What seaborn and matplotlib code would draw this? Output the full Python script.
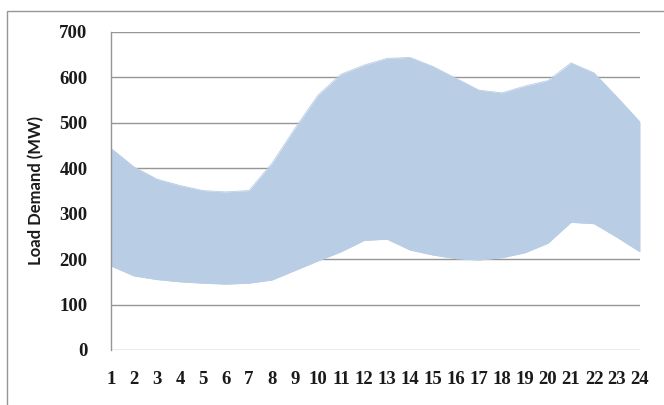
import numpy as np
import pandas as pd
import matplotlib
matplotlib.use("Agg")
import matplotlib.pyplot as plt
import seaborn as sns
from matplotlib.patches import Rectangle

# hourly load band (MW)
hours = list(range(1, 25))
upper_mw = [444, 403, 376, 362, 351, 348, 351, 411, 488, 561, 607, 627,
            642, 644, 624, 598, 572, 566, 581, 593, 632, 610, 557, 502]
lower_mw = [185, 163, 155, 150, 147, 145, 147, 154, 175, 196, 216, 241,
            244, 220, 209, 201, 198, 203, 214, 235, 281, 278, 248, 216]
yticks = [0, 100, 200, 300, 400, 500, 600, 700]

df = pd.DataFrame({"Hour": hours, "Upper": upper_mw, "Lower": lower_mw})

sns.set_theme(style="white")
plt.rcParams["font.family"] = ["Liberation Serif", "DejaVu Serif"]

fig = plt.figure(figsize=(6.64, 4.05), dpi=100)
ax = fig.add_axes([111 / 664, 1 - 350 / 405, (640 - 111) / 664, (350 - 32) / 405])

fill_col = "#B9CDE5"
ax.fill_between(df["Hour"], df["Lower"], df["Upper"], color=fill_col,
                linewidth=0, zorder=2)
sns.lineplot(data=df, x="Hour", y="Upper", ax=ax, color=fill_col, lw=0.6, zorder=2)
sns.lineplot(data=df, x="Hour", y="Lower", ax=ax, color=fill_col, lw=0.6, zorder=2)

ax.set_xlim(1, 24)
ax.set_ylim(0, 700)
ax.set_xticks(hours)
ax.set_xticklabels([str(h) for h in hours])
ax.set_yticks(yticks)
ax.set_yticklabels([str(v) for v in yticks])

for v in yticks:
    ax.axhline(v, color="#969696", lw=1.0, zorder=1)

for s in ["top", "right", "bottom"]:
    ax.spines[s].set_visible(False)
ax.spines["left"].set_color("#969696")
ax.spines["left"].set_linewidth(1.0)

ax.tick_params(axis="both", length=0, labelsize=13.5, colors="#1a1a1a")
ax.tick_params(axis="y", pad=17)
ax.tick_params(axis="x", pad=15)
for lab in ax.get_xticklabels() + ax.get_yticklabels():
    lab.set_fontweight("bold")

ax.set_xlabel("")
ax.set_ylabel("Load Demand (MW)", fontsize=12, fontweight="bold",
              family=["Lato", "DejaVu Sans"], color="#1a1a1a", labelpad=11)

# outer chart frame
fig.patches.append(Rectangle((6.5 / 664, -0.1), 1.0, 1 - 11.5 / 405 + 0.1,
                             transform=fig.transFigure, fill=False,
                             edgecolor="#969696", lw=1.0))

fig.savefig("out.png", dpi=100)
